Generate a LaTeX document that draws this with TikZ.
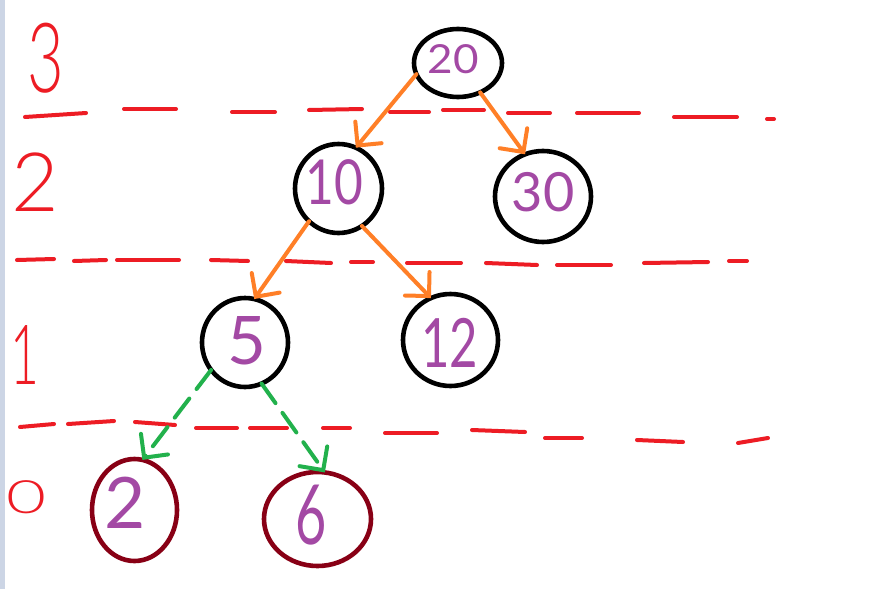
\documentclass[tikz,border=0pt]{standalone}
\usepackage{fontspec}
\newfontfamily\hand{Lato Light}
\newfontfamily\handr{Lato}
\usetikzlibrary{shapes.geometric,arrows.meta}
\definecolor{pred}{HTML}{ED1C24}
\definecolor{ppurple}{HTML}{A349A4}
\definecolor{porange}{HTML}{FF7F27}
\definecolor{pgreen}{HTML}{22B14C}
\definecolor{pdark}{HTML}{880015}
\definecolor{pstrip}{HTML}{CCD5E5}
\tikzset{
  circ/.style={ellipse, draw=black, line width=4.6pt, inner sep=0pt, outer sep=0pt},
  leafcirc/.style={circ, draw=pdark},
  digit/.style={text=ppurple, inner sep=0pt, outer sep=0pt},
  lvl/.style={text=pred, inner sep=0pt, outer sep=0pt},
  barb/.style={-{Straight Barb[length=17pt,width=34pt,line cap=round]}},
  oarrow/.style={barb, draw=porange, line width=4pt, line cap=round},
  garrow/.style={barb, draw=pgreen, line width=4pt, line cap=round, dash pattern=on 24pt off 12pt},
  rdash/.style={draw=pred, line width=4pt, line cap=round}
}
\begin{document}
\begin{tikzpicture}[x=1pt,y=-1pt]
\useasboundingbox (0,0) rectangle (880,589);
\fill[white] (0,0) rectangle (880,589);
\fill[pstrip] (0,0) rectangle (5,589);

% level dashed lines
\draw[rdash] (25,117)--(86,113);
\draw[rdash] (124,109)--(176,109);
\draw[rdash] (232,112)--(275,112);
\draw[rdash] (309,110)--(362,109);
\draw[rdash] (390,112)--(429,112);
\draw[rdash] (443,110)--(484,110);
\draw[rdash] (508,113)--(550,113);
\draw[rdash] (577,113)--(639,113);
\draw[rdash] (674,117)--(737,117);
\draw[rdash] (767,119)--(774,119);

\draw[rdash] (17,260)--(54,259);
\draw[rdash] (74,261)--(106,260);
\draw[rdash] (117,260)--(179,260);
\draw[rdash] (211,260)--(248,261);
\draw[rdash] (286,261)--(331,263);
\draw[rdash] (351,262)--(373,262);
\draw[rdash] (407,263)--(461,263);
\draw[rdash] (486,263)--(537,265);
\draw[rdash] (557,265)--(611,265);
\draw[rdash] (644,263)--(708,262);
\draw[rdash] (729,261)--(747,261);

\draw[rdash] (20,427)--(54,424);
\draw[rdash] (68,424)--(114,421);
\draw[rdash] (135,422)--(175,425);
\draw[rdash] (196,428)--(237,428);
\draw[rdash] (250,428)--(287,428);
\draw[rdash] (323,428)--(350,428);
\draw[rdash] (385,433)--(437,433);
\draw[rdash] (472,430)--(525,432);
\draw[rdash] (545,438)--(582,438);
\draw[rdash] (637,440)--(683,442);
\draw[rdash] (738,443)--(768,438);

% level labels
\node[lvl, font={\hand\fontsize{97}{97}\selectfont}, xscale=0.65] (l3) at (45.5,58) {3};
\node[lvl, font={\hand\fontsize{82}{82}\selectfont}] (l2) at (35.5,182.5) {2};
\node[lvl, font={\hand\fontsize{83}{83}\selectfont}, xscale=0.6] (l1) at (25,355) {1};
\node[lvl, font={\hand\fontsize{46}{46}\selectfont}, xscale=1.5] (l0) at (26.5,497.5) {0};

% tree nodes
\node[circ, minimum width=88pt, minimum height=68pt] (n20) at (458,63) {};
\node[circ, minimum width=87pt, minimum height=89pt] (n10) at (338.5,188.5) {};
\node[circ, minimum width=96pt, minimum height=91pt] (n30) at (543,196.5) {};
\node[circ, minimum width=86pt, minimum height=89pt] (n5) at (245,342.5) {};
\node[circ, minimum width=95pt, minimum height=92pt] (n12) at (450.5,340) {};
\node[leafcirc, minimum width=85pt, minimum height=102pt] (n2) at (134.5,510) {};
\node[leafcirc, minimum width=107pt, minimum height=94pt] (n6) at (317.5,519) {};

% node texts
\node[digit, font={\handr\fontsize{40}{40}\selectfont}, xscale=1.1] (t20) at (453,59) {20};
\node[digit, font={\handr\fontsize{62}{62}\selectfont}, xscale=0.8] (t10) at (334.5,182.5) {10};
\node[digit, font={\handr\fontsize{54}{54}\selectfont}] (t30) at (543,192.5) {30};
\node[digit, font={\handr\fontsize{67}{67}\selectfont}] (t5) at (247,341) {5};
\node[digit, font={\handr\fontsize{68}{68}\selectfont}, xscale=0.72] (t12) at (449.5,342.5) {12};
\node[digit, font={\handr\fontsize{71}{71}\selectfont}] (t2) at (125.5,502.5) {2};
\node[digit, font={\handr\fontsize{83}{83}\selectfont}, xscale=0.65] (t6) at (311,515) {6};

% edges
\draw[oarrow] (n20.195) -- (n10.67);
\draw[oarrow] (n20.307) -- (n30.113);
\draw[oarrow] (n10.228) -- (n5.78);
\draw[oarrow] (n10.302) -- (n12.115);
\draw[garrow] (n5.219) -- (n2.81);
\draw[garrow] (n5.292) -- (n6.81);
\end{tikzpicture}
\end{document}
